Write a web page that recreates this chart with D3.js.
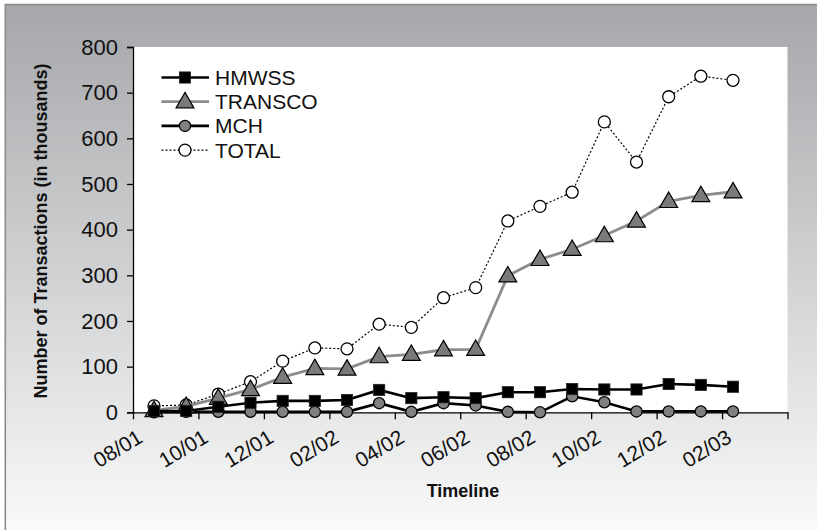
<!DOCTYPE html>
<meta charset="utf-8">
<style>
  body { margin: 0; background: #fff; }
  .tick-label { font-family: "Liberation Sans", Arial, sans-serif; font-size: 21px; fill: #111; }
  .ytick { font-size: 22px; }
  .legend text { font-family: "Liberation Sans Narrow", "Liberation Sans", Arial, sans-serif; font-size: 21px; fill: #111; }
  .axis-title { font-family: "Liberation Sans", Arial, sans-serif; font-size: 18px; font-weight: 700; fill: #111; }
</style>
<body>
<script src="https://cdnjs.cloudflare.com/ajax/libs/d3/7.8.5/d3.min.js"></script>
<script>
// monthly points, Aug 2001 .. Feb 2003
var months = ["2001-08","2001-09","2001-10","2001-11","2001-12","2002-01","2002-02","2002-03","2002-04","2002-05",
              "2002-06","2002-07","2002-08","2002-09","2002-10","2002-11","2002-12","2003-01","2003-02"];

var hmwss   = [3, 3, 12, 21, 25, 25, 27, 49, 31, 33, 31, 44, 44, 51, 50, 50, 62, 60, 56];
var transco = [4, 13, 31, 50, 77, 96, 95, 122, 127, 137, 138, 299, 335, 357, 387, 419, 462, 475, 483];
var mch     = [0, 1, 1, 1, 1, 1, 1, 20, 1, 20, 15, 1, 0, 35, 22, 2, 2, 2, 2];
var total   = [14, 16, 40, 67, 112, 141, 139, 193, 186, 251, 273, 419, 451, 482, 636, 548, 691, 736, 727];

var xTickLabels = ["08/01","10/01","12/01","02/02","04/02","06/02","08/02","10/02","12/02","02/03"];
var yTicks = [0, 100, 200, 300, 400, 500, 600, 700, 800];

var width = 817, height = 530;

var svg = d3.select("body").append("svg")
    .attr("width", width)
    .attr("height", height);

// gray backdrop fading to white
var grad = svg.append("defs").append("linearGradient")
    .attr("id", "bg").attr("x1", 0).attr("y1", 0).attr("x2", 0).attr("y2", 1);
grad.append("stop").attr("offset", "0%").attr("stop-color", "#a5a7aa");
grad.append("stop").attr("offset", "100%").attr("stop-color", "#fafafa");

svg.append("rect")
    .attr("x", 5.3).attr("y", 4.6)
    .attr("width", width).attr("height", height)
    .attr("fill", "url(#bg)")
    .attr("stroke", "#8a8b8d")
    .attr("stroke-width", 1.6);

// scales
var xAxisScale = d3.scaleLinear().domain([0, 20]).range([133, 787.5]);
var x = d3.scalePoint().domain(months).range([154, 733]);
var y = d3.scaleLinear().domain([0, 800]).range([412.3, 47]);

// white plot area
svg.append("rect")
    .attr("x", xAxisScale(0)).attr("y", y(800))
    .attr("width", xAxisScale(20) - xAxisScale(0))
    .attr("height", y(0) - y(800))
    .attr("fill", "#fff");

// y axis
var yAxis = svg.append("g")
    .attr("transform", "translate(" + xAxisScale(0) + ",0)")
    .call(d3.axisLeft(y).tickValues(yTicks).tickSize(6).tickPadding(9).tickFormat(d3.format("d")));
yAxis.select(".domain").attr("stroke", "#000").attr("stroke-width", 1.3);
yAxis.selectAll(".tick line").attr("stroke", "#000").attr("stroke-width", 1.3);
yAxis.selectAll(".tick text").attr("class", "tick-label ytick").attr("font-family", null).attr("font-size", null);

// x axis, a tick every two months
var xAxis = svg.append("g")
    .attr("transform", "translate(0," + y(0) + ")")
    .call(d3.axisBottom(xAxisScale).tickValues(d3.range(0, 21, 2)).tickSize(7).tickSizeOuter(0).tickFormat(""));
xAxis.select(".domain").attr("stroke", "#000").attr("stroke-width", 1.3);
xAxis.selectAll(".tick line").attr("stroke", "#000").attr("stroke-width", 1.3);

svg.append("g").selectAll("text")
    .data(xTickLabels)
    .enter().append("text")
    .attr("class", "tick-label")
    .attr("text-anchor", "end")
    .attr("transform", function(d, i) {
      return "translate(" + (xAxisScale(i * 2) + 11) + "," + (y(0) + 29) + ") rotate(-31)";
    })
    .text(function(d) { return d; });

// axis titles
svg.append("text")
    .attr("class", "axis-title")
    .attr("text-anchor", "middle")
    .attr("transform", "translate(47,231) rotate(-90)")
    .text("Number of Transactions (in thousands)");

svg.append("text")
    .attr("class", "axis-title")
    .attr("text-anchor", "middle")
    .attr("x", 463).attr("y", 497)
    .text("Timeline");

// series, drawn bottom to top
var series = [
  { name: "TOTAL",   values: total,   line: "#000",    lw: 1.2, dash: "2,2", marker: "circle",   fill: "#fff",    r: 6 },
  { name: "MCH",     values: mch,     line: "#000",    lw: 2.6, dash: null,  marker: "circle",   fill: "#808080", r: 5.6 },
  { name: "TRANSCO", values: transco, line: "#8c8c8c", lw: 2.8, dash: null,  marker: "triangle", fill: "#7a7a7a", r: 7.3 },
  { name: "HMWSS",   values: hmwss,   line: "#000",    lw: 2.6, dash: null,  marker: "square",   fill: "#000",    r: 5.6 }
];

var line = d3.line()
    .x(function(d, i) { return x(months[i]); })
    .y(function(d) { return y(d); });

function drawMarker(g, s, cx, cy) {
  if (s.marker === "circle") {
    g.append("circle").attr("cx", cx).attr("cy", cy).attr("r", s.r)
      .attr("fill", s.fill).attr("stroke", "#000").attr("stroke-width", 1.3);
  } else if (s.marker === "square") {
    g.append("rect").attr("x", cx - s.r).attr("y", cy - s.r)
      .attr("width", s.r * 2).attr("height", s.r * 2)
      .attr("fill", s.fill).attr("stroke", "#222").attr("stroke-width", 0.8);
  } else {
    var sym = d3.symbol().type(d3.symbolTriangle).size(s.r * s.r * 2.6);
    g.append("path").attr("d", sym())
      .attr("transform", "translate(" + cx + "," + (cy + 1) + ")")
      .attr("fill", s.fill).attr("stroke", "#000").attr("stroke-width", 1.2);
  }
}

series.forEach(function(s) {
  var g = svg.append("g");
  g.append("path")
    .datum(s.values)
    .attr("d", line)
    .attr("fill", "none")
    .attr("stroke", s.line)
    .attr("stroke-width", s.lw)
    .attr("stroke-dasharray", s.dash);
  s.values.forEach(function(v, i) {
    drawMarker(g, s, x(months[i]), y(v));
  });
});

// legend
var legendOrder = ["HMWSS", "TRANSCO", "MCH", "TOTAL"];
var legend = svg.append("g").attr("class", "legend");
legendOrder.forEach(function(name, i) {
  var s = series.filter(function(d) { return d.name === name; })[0];
  var ly = 77.5 + i * 24.2;
  var g = legend.append("g");
  g.append("line")
    .attr("x1", 161.5).attr("x2", 209)
    .attr("y1", ly).attr("y2", ly)
    .attr("stroke", s.line)
    .attr("stroke-width", s.lw)
    .attr("stroke-dasharray", s.dash);
  drawMarker(g, s, 185, ly);
  g.append("text")
    .attr("x", 215).attr("y", ly)
    .attr("dy", "0.36em")
    .text(name);
});
</script>
</body>
